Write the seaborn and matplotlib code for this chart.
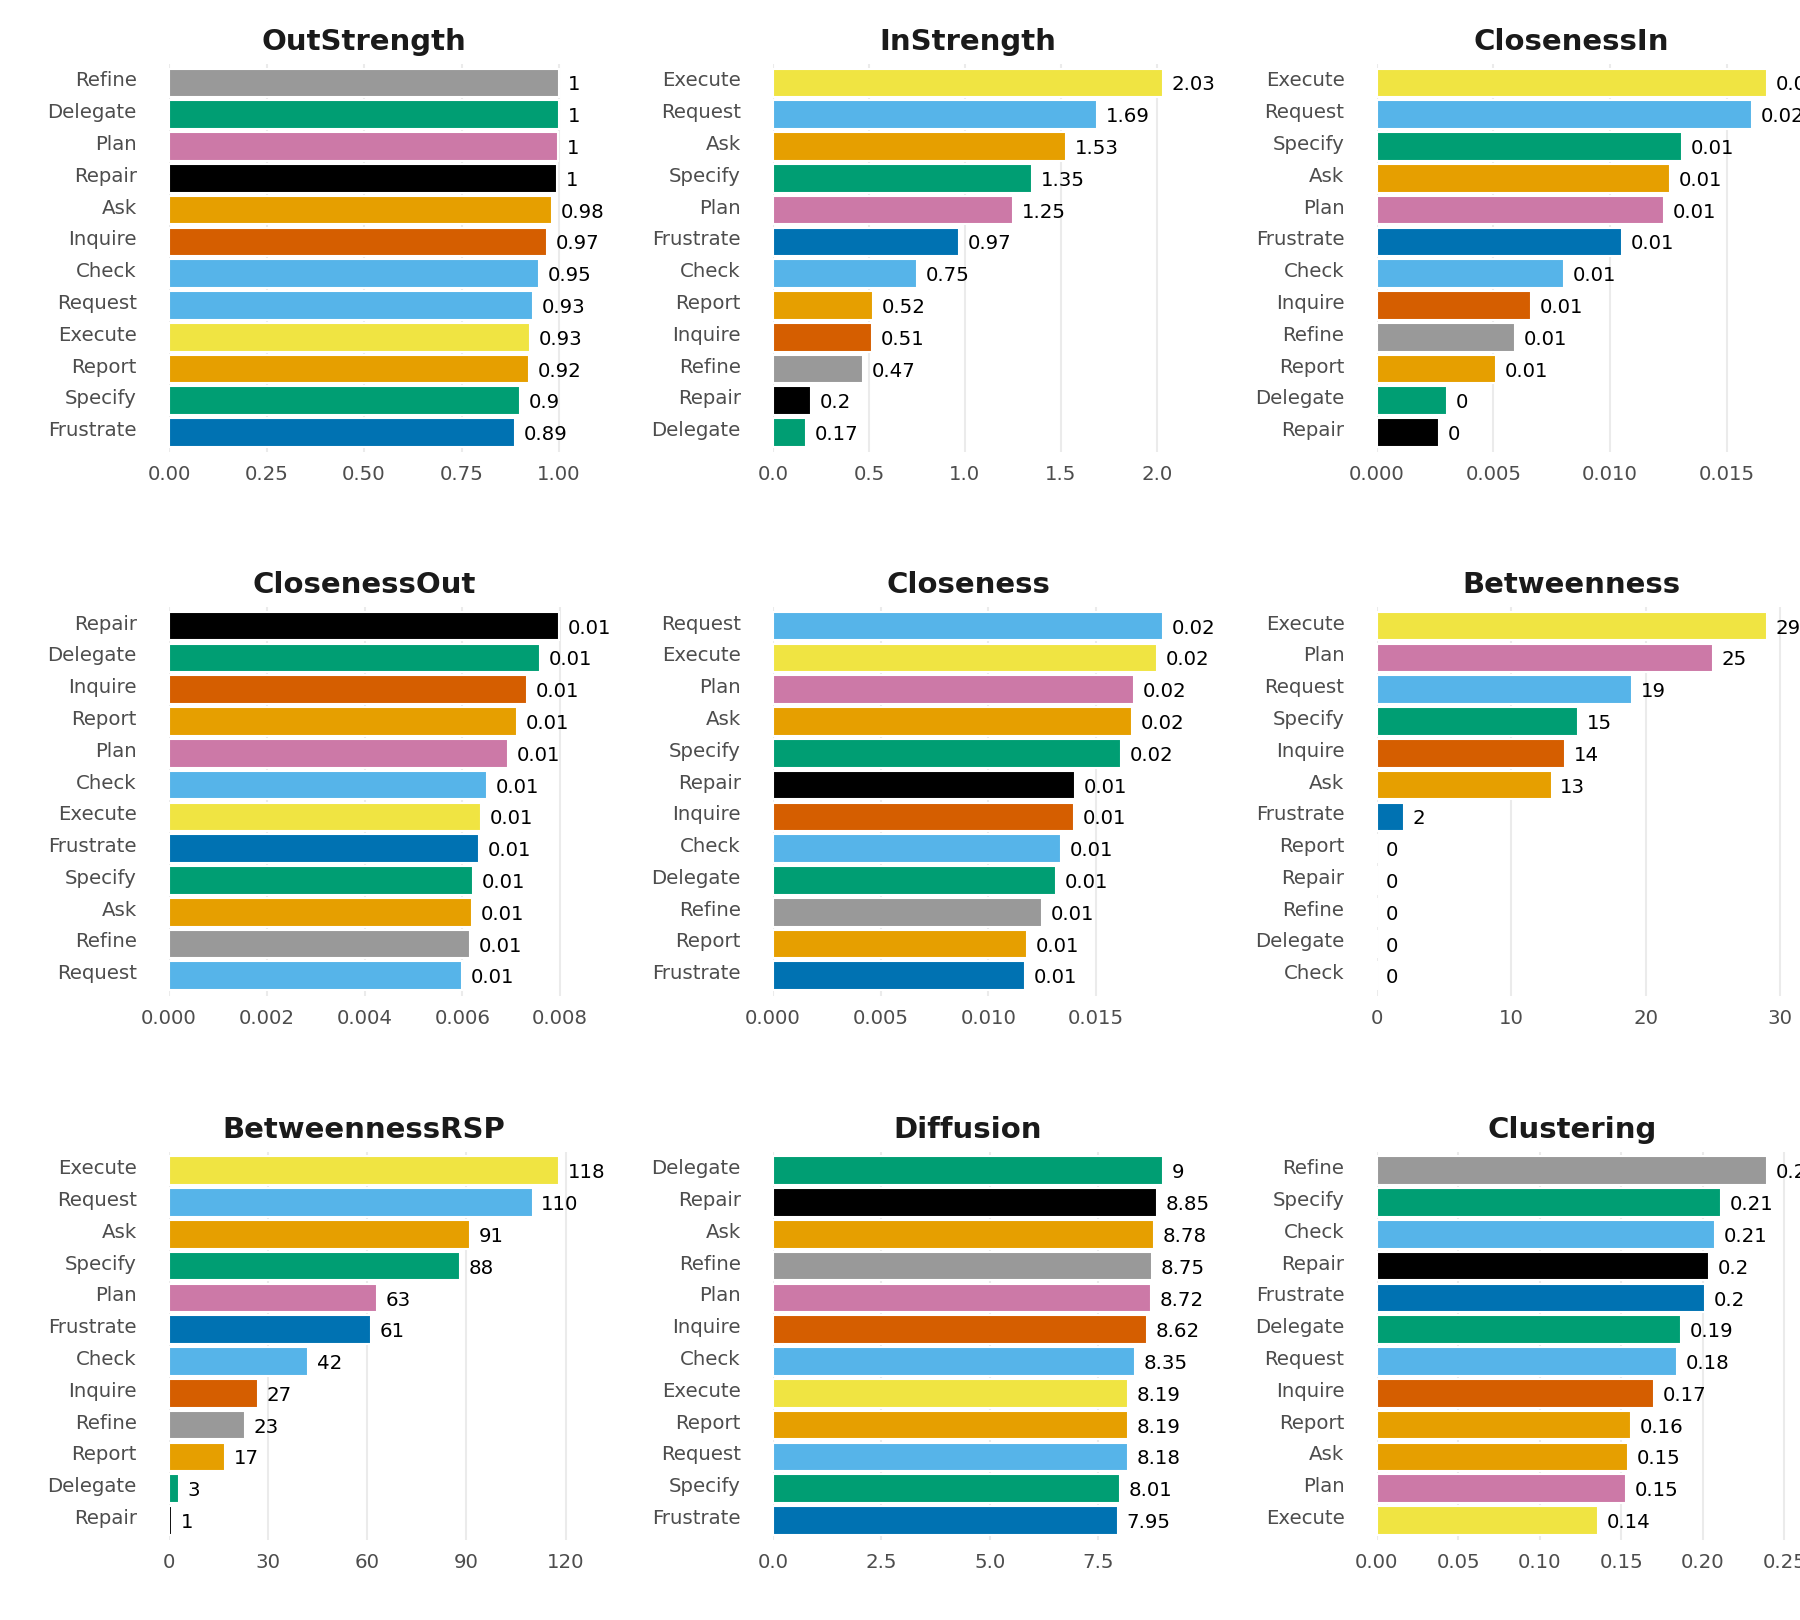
import matplotlib
matplotlib.use("Agg")
import matplotlib.pyplot as plt
import matplotlib.ticker as mticker
import matplotlib.transforms as mtransforms
import seaborn as sns

# --- data, top to bottom as in the chart ---
out_strength_nodes = ["Refine", "Delegate", "Plan", "Repair", "Ask", "Inquire", "Check",
                      "Request", "Execute", "Report", "Specify", "Frustrate"]
out_strength = [1.0, 1.0, 0.998, 0.996, 0.983, 0.968, 0.949, 0.934, 0.926, 0.924, 0.901, 0.887]

in_strength_nodes = ["Execute", "Request", "Ask", "Specify", "Plan", "Frustrate", "Check",
                     "Report", "Inquire", "Refine", "Repair", "Delegate"]
in_strength = [2.033, 1.689, 1.528, 1.351, 1.252, 0.968, 0.751, 0.522, 0.514, 0.470, 0.198, 0.171]

closeness_in_nodes = ["Execute", "Request", "Specify", "Ask", "Plan", "Frustrate", "Check",
                      "Inquire", "Refine", "Report", "Delegate", "Repair"]
closeness_in = [0.01671, 0.01607, 0.01307, 0.01256, 0.0123, 0.0105, 0.00801, 0.0066,
                0.00591, 0.0051, 0.0030, 0.00266]

closeness_out_nodes = ["Repair", "Delegate", "Inquire", "Report", "Plan", "Check", "Execute",
                       "Frustrate", "Specify", "Ask", "Refine", "Request"]
closeness_out = [0.007976, 0.007588, 0.007321, 0.007119, 0.006933, 0.006505, 0.006376,
                 0.006335, 0.006214, 0.006198, 0.006158, 0.005988]

closeness_nodes = ["Request", "Execute", "Plan", "Ask", "Specify", "Repair", "Inquire",
                   "Check", "Delegate", "Refine", "Report", "Frustrate"]
closeness = [0.018125, 0.01785, 0.016783, 0.016691, 0.016176, 0.014044, 0.013989,
             0.013382, 0.013162, 0.0125, 0.011801, 0.01171]

betweenness_nodes = ["Execute", "Plan", "Request", "Specify", "Inquire", "Ask", "Frustrate",
                     "Report", "Repair", "Refine", "Delegate", "Check"]
betweenness = [29, 25, 19, 15, 14, 13, 2, 0, 0, 0, 0, 0]

betweenness_rsp_nodes = ["Execute", "Request", "Ask", "Specify", "Plan", "Frustrate", "Check",
                         "Inquire", "Refine", "Report", "Delegate", "Repair"]
betweenness_rsp = [118, 110, 91, 88, 63, 61, 42, 27, 23, 17, 3, 1]

diffusion_nodes = ["Delegate", "Repair", "Ask", "Refine", "Plan", "Inquire", "Check",
                   "Execute", "Report", "Request", "Specify", "Frustrate"]
diffusion = [9.0, 8.85, 8.78, 8.75, 8.72, 8.62, 8.35, 8.193, 8.186, 8.18, 8.01, 7.95]

clustering_nodes = ["Refine", "Specify", "Check", "Repair", "Frustrate", "Delegate", "Request",
                    "Inquire", "Report", "Ask", "Plan", "Execute"]
clustering = [0.2392, 0.2110, 0.2073, 0.2036, 0.2011, 0.1864, 0.1840, 0.1699, 0.1558,
              0.1539, 0.1527, 0.1355]

node_colors = {
    "Refine": "#999999", "Delegate": "#009E73", "Plan": "#CC79A7", "Repair": "#000000",
    "Ask": "#E69F00", "Inquire": "#D55E00", "Check": "#56B4E9", "Request": "#56B4E9",
    "Execute": "#F0E442", "Report": "#E69F00", "Specify": "#009E73", "Frustrate": "#0072B2",
}

panels = [
    ("OutStrength", out_strength_nodes, out_strength, 0.25),
    ("InStrength", in_strength_nodes, in_strength, 0.5),
    ("ClosenessIn", closeness_in_nodes, closeness_in, 0.005),
    ("ClosenessOut", closeness_out_nodes, closeness_out, 0.002),
    ("Closeness", closeness_nodes, closeness, 0.005),
    ("Betweenness", betweenness_nodes, betweenness, 10),
    ("BetweennessRSP", betweenness_rsp_nodes, betweenness_rsp, 30),
    ("Diffusion", diffusion_nodes, diffusion, 2.5),
    ("Clustering", clustering_nodes, clustering, 0.05),
]

sns.set_theme(style="white")
plt.rcParams["font.family"] = ["DejaVu Sans"]

W, H = 1800, 1620
fig = plt.figure(figsize=(12, 10.8), dpi=150)

# axes boxes in pixels
col_left = [169.0, 773.1, 1376.7]
col_width = 409.5
row_top = [63.8, 607.0, 1151.7]
ax_h = 388.5
pad_right = 1.05
lift = mtransforms.ScaledTranslation(0, 4 / 150, fig.dpi_scale_trans)

for k, (title, nodes, vals, step) in enumerate(panels):
    r, c = divmod(k, 3)
    ax = fig.add_axes([col_left[c] / W, 1 - (row_top[r] + ax_h) / H, col_width / W, ax_h / H])
    sns.barplot(x=vals, y=nodes, hue=nodes, palette=node_colors, orient="h",
                width=0.9, legend=False, saturation=1, ax=ax)
    vmax = max(vals)
    ax.set_xlim(0, vmax * pad_right)
    ax.set_ylim(len(nodes) - 0.38, -0.6)
    ax.xaxis.set_major_locator(mticker.MultipleLocator(step))
    ax.set_xlabel("")
    ax.set_ylabel("")
    for s in ax.spines.values():
        s.set_visible(False)
    ax.set_axisbelow(True)
    ax.grid(axis="x", color="#ebebeb", linewidth=1.0)
    ax.grid(axis="y", visible=False)
    ax.tick_params(axis="y", length=0, pad=15.5, labelsize=9.5, labelcolor="#4d4d4d")
    ax.tick_params(axis="x", length=0, pad=6.3, labelsize=9.5, labelcolor="#4d4d4d")
    for lab in ax.get_yticklabels():
        lab.set_transform(lab.get_transform() + lift)
    for i, v in enumerate(vals):
        ax.annotate(f"{round(v, 2):g}", (v, i), xytext=(4.2, -1.0), textcoords="offset points",
                    ha="left", va="center", fontsize=9.5, color="black",
                    annotation_clip=False)
    ax.set_title(title, fontsize=14, fontweight="bold", color="#1a1a1a", pad=6.5,
                 x=0.5 / pad_right)

fig.savefig("out.png", dpi=150)
